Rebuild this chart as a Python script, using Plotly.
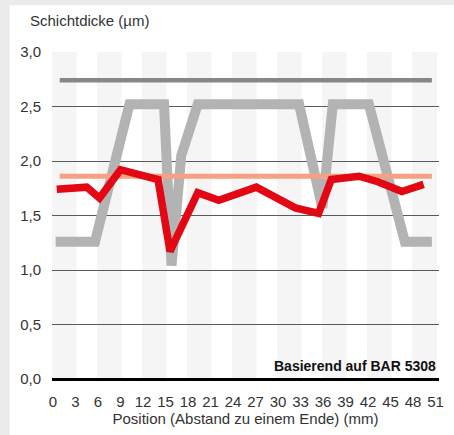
import plotly.graph_objects as go

# ---- data ----
x_ticks = list(range(0, 52, 3))
y_ticks = [0, 0.5, 1.0, 1.5, 2.0, 2.5, 3.0]
y_ticktext = ["0,0", "0,5", "1,0", "1,5", "2,0", "2,5", "3,0"]

band_starts = [0, 6, 12, 18, 24, 30, 36, 42, 48]

profile_x = [0.36, 5.6, 10.2, 14.8, 15.8, 17.1, 19.3, 32.8, 35.9, 37.3, 42.1, 46.9, 50.5]
profile_y = [1.26, 1.26, 2.52, 2.52, 1.04, 2.05, 2.52, 2.52, 1.57, 2.52, 2.52, 1.26, 1.26]

measured_x = [0.5, 4.5, 6.2, 9.0, 14.0, 15.6, 19.3, 22.1, 27.1, 32.3, 35.4, 37.1, 40.8, 43.3, 46.5, 49.4]
measured_y = [1.74, 1.76, 1.66, 1.92, 1.83, 1.17, 1.71, 1.64, 1.76, 1.57, 1.52, 1.83, 1.86, 1.81, 1.72, 1.785]

limit_x = [0.9, 50.5]
upper_limit = [2.74, 2.74]
target_value = [1.86, 1.86]

FONT = "Liberation Sans, Arial, Helvetica, sans-serif"
TXT = "#333333"
PAGE = "#ebebeb"

fig = go.Figure()

fig.add_trace(go.Scatter(x=profile_x, y=profile_y, mode="lines",
                         line=dict(color="#b3b3b3", width=10), hoverinfo="skip"))
fig.add_trace(go.Scatter(x=limit_x, y=target_value, mode="lines",
                         line=dict(color="#f4a184", width=5), hoverinfo="skip"))
fig.add_trace(go.Scatter(x=limit_x, y=upper_limit, mode="lines",
                         line=dict(color="#878787", width=4.5), hoverinfo="skip"))
fig.add_trace(go.Scatter(x=measured_x, y=measured_y, mode="lines",
                         line=dict(color="#e30613", width=7.5), hoverinfo="skip"))

shapes = []
# grey page strips around the white card (top and left)
shapes.append(dict(type="rect", xref="paper", yref="paper",
                   x0=-0.2, x1=1.1, y0=1.1429, y1=1.2,
                   fillcolor=PAGE, line=dict(width=0), layer="below"))
shapes.append(dict(type="rect", xref="paper", yref="paper",
                   x0=-0.2, x1=-0.1097, y0=-0.2, y1=1.2,
                   fillcolor=PAGE, line=dict(width=0), layer="below"))
# keep right margin white
shapes.append(dict(type="rect", xref="paper", yref="paper",
                   x0=1.003, x1=1.3, y0=-0.05, y1=1.1429,
                   fillcolor="white", line=dict(width=0), layer="above"))
for s in band_starts:
    shapes.append(dict(type="rect", xref="x", yref="paper",
                       x0=s - 0.15, x1=s + 3.15, y0=0, y1=1,
                       fillcolor="#f5f5f5", line=dict(width=0), layer="below"))

fig.update_layout(
    width=454, height=435,
    margin=dict(l=52, r=10, t=52, b=54),
    paper_bgcolor="white",
    plot_bgcolor="white",
    showlegend=False,
    shapes=shapes,
    font=dict(family=FONT, color=TXT, size=15),
    xaxis=dict(range=[-0.13, 51.45], tickvals=x_ticks, showgrid=False, zeroline=False,
               showline=False, ticks="outside", ticklen=9, tickcolor="rgba(0,0,0,0)",
               tickfont=dict(size=15, color=TXT, family=FONT),
               title=dict(text="Position (Abstand zu einem Ende) (mm)",
                          font=dict(size=15, color=TXT, family=FONT), standoff=4)),
    yaxis=dict(range=[0, 3], tickvals=y_ticks, ticktext=y_ticktext, showgrid=True,
               gridcolor="#5a5a5a", gridwidth=1, zeroline=True, zerolinecolor="#000000",
               zerolinewidth=2.5, showline=False, ticks="outside", ticklen=7,
               tickcolor="rgba(0,0,0,0)", tickfont=dict(size=15, color=TXT, family=FONT)),
    annotations=[
        dict(text="Schichtdicke (µm)", xref="paper", yref="paper", x=-0.063, y=1.0964,
             xanchor="left", yanchor="middle", showarrow=False,
             font=dict(size=15, color=TXT, family=FONT)),
        dict(text="<b>Basierend auf BAR 5308</b>", xref="paper", yref="y", x=0.997, y=0.12,
             xanchor="right", yanchor="middle", showarrow=False,
             font=dict(size=14, color="#111111", family=FONT)),
    ],
)

fig.write_html("out.html", config={"displayModeBar": False},
               post_script="document.documentElement.style.overflow='hidden';"
                           "document.body.style.margin='0';document.body.style.overflow='hidden';"
                           "document.body.style.background='white';")
